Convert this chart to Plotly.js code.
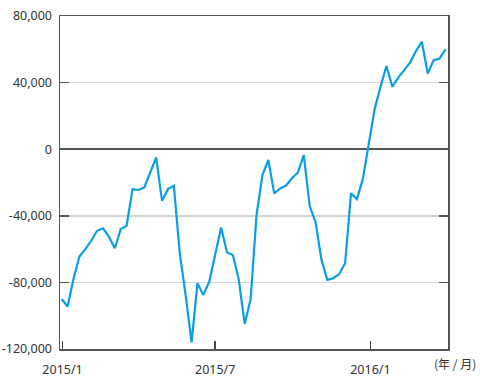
<!DOCTYPE html>
<html>
<head>
<meta charset="utf-8">
<script src="https://cdn.plot.ly/plotly-3.0.1.min.js"></script>
<style>
html,body{margin:0;padding:0;background:#fff;}
#chart{width:480px;height:378px;}
</style>
</head>
<body>
<div id="chart"></div>
<script>
const weeks = [
 '2014-12-31','2015-01-07','2015-01-14','2015-01-21','2015-01-28',
 '2015-02-04','2015-02-11','2015-02-18','2015-02-25',
 '2015-03-04','2015-03-11','2015-03-18','2015-03-25',
 '2015-04-01','2015-04-08','2015-04-15','2015-04-22','2015-04-29',
 '2015-05-06','2015-05-13','2015-05-20','2015-05-27',
 '2015-06-03','2015-06-10','2015-06-17','2015-06-24',
 '2015-07-01','2015-07-08','2015-07-15','2015-07-22','2015-07-29',
 '2015-08-05','2015-08-12','2015-08-19','2015-08-26',
 '2015-09-02','2015-09-09','2015-09-16','2015-09-23','2015-09-30',
 '2015-10-07','2015-10-14','2015-10-21','2015-10-28',
 '2015-11-04','2015-11-11','2015-11-18','2015-11-25',
 '2015-12-02','2015-12-09','2015-12-16','2015-12-23','2015-12-30',
 '2016-01-06','2016-01-13','2016-01-20','2016-01-27',
 '2016-02-03','2016-02-10','2016-02-17','2016-02-24',
 '2016-03-02','2016-03-09','2016-03-16','2016-03-23','2016-03-30'
];
const values = [
 -90000,-94500,-78000,-64500,-60000,
 -55000,-49000,-47500,-52500,
 -59500,-48000,-46000,-24000,
 -24500,-23000,-14500,-5000,-31000,
 -24000,-22000,-62500,-88000,
 -116000,-80500,-87500,-79500,
 -64000,-47000,-62000,-63500,-78500,
 -105000,-90000,-39500,-15500,
 -6500,-26500,-23500,-21800,-17500,
 -14000,-3500,-34000,-44000,
 -66500,-78500,-77500,-75000,
 -68500,-26500,-30000,-18000,3000,
 24000,37500,50000,37500,
 43000,47500,52000,59000,
 64500,45500,53500,54500,60000
];
const xTickVals = ['2015-01-01','2015-07-01','2016-01-01'];
const xTickText = ['2015/1','2015/7','2016/1'];
const yTickVals = [-120000,-80000,-40000,0,40000,80000];
const yTickText = ['-120,000','-80,000','-40,000','0','40,000','80,000'];
const unitLabel = '(年 / 月)';

const font = {family: '"Noto Sans", "Noto Sans CJK JP", sans-serif', size: 12.5, color: '#333'};

Plotly.newPlot('chart', [{
  x: weeks, y: values, type: 'scatter', mode: 'lines',
  line: {color: '#0a9ee6', width: 2.2},
  hoverinfo: 'skip'
}], {
  width: 480, height: 378,
  margin: {l: 60, r: 32, t: 16, b: 29},
  paper_bgcolor: '#fff', plot_bgcolor: '#fff',
  showlegend: false,
  font: font,
  xaxis: {
    type: 'date',
    range: ['2014-12-29', '2016-04-02'],
    tickvals: xTickVals, ticktext: xTickText,
    ticks: 'inside', ticklen: 8, tickwidth: 1.5, tickcolor: '#444',
    showline: true, linecolor: '#555', linewidth: 1.5, mirror: true,
    showgrid: false, zeroline: false,
    ticklabelstandoff: 8,
    tickfont: font
  },
  yaxis: {
    range: [-120000, 80000],
    tickvals: yTickVals, ticktext: yTickText,
    ticks: 'inside', ticklen: 9, tickwidth: 1.5, tickcolor: '#555',
    showline: true, linecolor: '#555', linewidth: 1.5, mirror: 'ticks',
    showgrid: true, gridcolor: '#d4d4d4', gridwidth: 1.5,
    zeroline: true, zerolinecolor: '#555', zerolinewidth: 1.5,
    ticklabelstandoff: 4,
    tickfont: font
  },
  annotations: [{
    text: unitLabel, xref: 'paper', yref: 'paper',
    x: 1.0, y: 0, xanchor: 'left', yanchor: 'middle',
    xshift: -16, yshift: -14, showarrow: false,
    font: {family: '"Noto Sans CJK JP", sans-serif', size: 12, color: '#333'}
  }]
}, {staticPlot: true});
</script>
</body>
</html>
